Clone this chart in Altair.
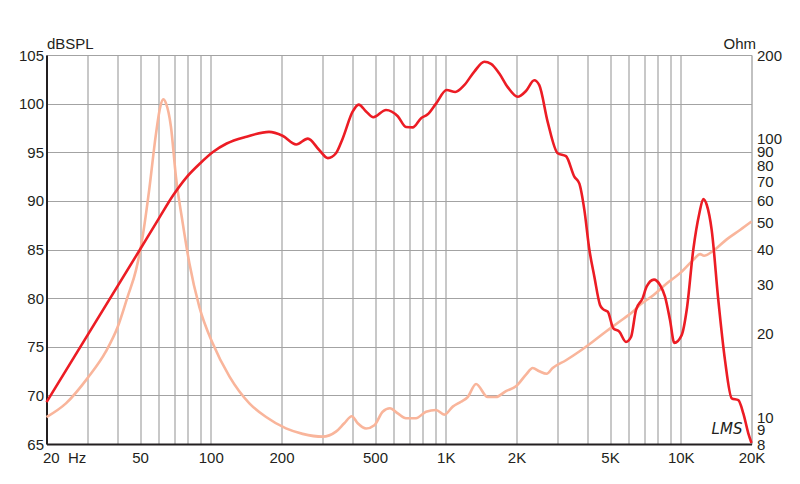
import altair as alt
import pandas as pd

# SPL curve (dB) vs frequency (Hz)
spl_freq = [20, 50, 60.0, 69.3, 79.0, 90.0, 102.5, 116.9, 142, 177,
            202, 231, 259, 290, 315, 341, 364, 402, 426, 458,
            492, 557, 625, 677, 723, 785, 838, 909, 1009, 1098,
            1199, 1323, 1459, 1558, 1690, 1835, 2024, 2195, 2380, 2500,
            2716, 2994, 3248, 3524, 3700, 3887, 4083, 4289, 4533, 4683,
            4890, 5165, 5476, 5848, 6142, 6451, 6887, 7162, 7693, 8158,
            8570, 9000, 9388, 10093, 10602, 11308, 11994, 12474, 12896, 13542,
            14448, 15430, 16476, 17576, 18458, 19384, 20000]
spl_db = [69.3, 85.0, 88.15, 90.6, 92.45, 93.85, 95.05, 95.9, 96.6, 97.1,
          96.7, 95.8, 96.4, 95.2, 94.4, 94.9, 96.4, 99.2, 99.9, 99.2,
          98.6, 99.35, 98.7, 97.6, 97.56, 98.5, 98.9, 100.0, 101.4, 101.2,
          101.9, 103.3, 104.3, 104.1, 103.1, 101.7, 100.7, 101.3, 102.4, 101.9,
          98.1, 94.9, 94.6, 92.5, 91.8, 89.1, 85.0, 82.2, 79.3, 78.85,
          78.6, 76.9, 76.55, 75.5, 76.0, 78.8, 80.0, 81.2, 81.9, 81.35,
          80.15, 77.75, 75.4, 76.2, 78.8, 85.0, 88.7, 90.2, 89.6, 87.0,
          79.8, 73.6, 69.7, 69.5, 68.15, 66.1, 65.1]

# Impedance curve (Ohm) vs frequency (Hz)
imp_freq = [20, 24.2, 29.9, 35.8, 40.2, 44.3, 48.1, 51.3, 54.7, 58.5,
            61.0, 62.8, 64.5, 67.7, 71.1, 76.0, 81.1, 89.4, 101.9, 120,
            146, 172, 209, 246, 299, 341, 370, 398, 422, 458,
            497, 539, 579, 625, 677, 747, 824, 909, 986, 1071,
            1161, 1240, 1345, 1508, 1636, 1804, 1990, 2195, 2344, 2500,
            2688, 2851, 3248, 3700, 4220, 4808, 5476, 6246, 6708, 7642,
            8712, 9926, 11308, 12078, 12560, 13756, 15692, 17870, 20000]
imp_ohm = [10.0, 11.2, 13.8, 17.2, 21.1, 27.1, 33.8, 44.5, 65.5, 104.6,
           130.5, 138.6, 134, 110.5, 73, 49.7, 35.7, 24.9, 18.4, 14.0,
           11.2, 10.0, 9.1, 8.7, 8.5, 8.86, 9.5, 10.07, 9.5, 9.1,
           9.35, 10.45, 10.75, 10.3, 9.9, 9.9, 10.45, 10.6, 10.2, 10.9,
           11.35, 11.8, 13.15, 11.8, 11.8, 12.4, 12.9, 14.2, 15.0, 14.6,
           14.3, 15.0, 16.0, 17.2, 18.65, 20.3, 22.0, 23.9, 25.3, 27.4,
           30.2, 32.9, 36.7, 38.5, 38.0, 39.6, 43.5, 47.0, 50.4]

grid_freqs = [20, 30, 40, 50, 60, 70, 80, 90, 100, 200, 300, 400, 500, 600, 700, 800, 900,
              1000, 2000, 3000, 4000, 5000, 6000, 7000, 8000, 9000, 10000, 20000]
x_label_vals = [20, 50, 100, 200, 500, 1000, 2000, 5000, 10000, 20000]
x_label_txt = ["20\u00a0\u00a0Hz", "50", "100", "200", "500", "1K", "2K", "5K", "10K", "20K"]
db_ticks = [65, 70, 75, 80, 85, 90, 95, 100, 105]
ohm_ticks = [8, 9, 10, 20, 30, 40, 50, 60, 70, 80, 90, 100, 200]

note = pd.DataFrame({"f": [15730], "v": [66.5], "t": ["LMS"]})

FONT = "Liberation Sans"
RED = "#ec1c24"
PINK = "#f9b59b"
DARK = "#231f20"
GRID = "#a3a3a3"

label_expr = " : ".join(
    f"datum.value == {v} ? '{t}'" for v, t in zip(x_label_vals, x_label_txt)
) + " : ''"

x_axis = alt.Axis(
    values=grid_freqs, labelExpr=label_expr, grid=True, gridColor=GRID, gridWidth=1.2,
    ticks=False, domainColor=DARK, domainWidth=2, labelFont=FONT, labelFontSize=15,
    labelColor=DARK, labelPadding=6, labelFlush=False, labelOverlap=False, title=None,
    labelAlign={"condition": {"test": "datum.value == 20", "value": "left"}, "value": "center"},
    labelOffset={"condition": {"test": "datum.value == 20", "value": -4}, "value": 0},
)
x_scale = alt.Scale(type="log", domain=[20, 20000], nice=False)
x_enc = alt.X("f:Q", scale=x_scale, axis=x_axis)

spl_df = pd.DataFrame({"f": spl_freq, "v": spl_db})
imp_df = pd.DataFrame({"f": imp_freq, "v": imp_ohm})

imp_line = alt.Chart(imp_df).mark_line(color=PINK, strokeWidth=2.6, interpolate="monotone").encode(
    x=x_enc,
    y=alt.Y("v:Q", scale=alt.Scale(type="log", domain=[8, 200], nice=False),
            axis=alt.Axis(orient="right", values=ohm_ticks, grid=False, ticks=False,
                          domain=False, labelFont=FONT, labelFontSize=15, labelColor=DARK,
                          labelPadding=5, labelOverlap=False, format="d",
                          title="Ohm", titleAngle=0, titleAlign="right", titleX=4, titleY=-7,
                          titleBaseline="alphabetic", titleFont=FONT, titleFontSize=15,
                          titleFontWeight="normal", titleColor=DARK)),
    order="f:Q",
)

db_scale = alt.Scale(domain=[65, 105], nice=False, zero=False)
spl_line = alt.Chart(spl_df).mark_line(color=RED, strokeWidth=2.6, interpolate="monotone").encode(
    x=x_enc,
    y=alt.Y("v:Q", scale=db_scale,
            axis=alt.Axis(orient="left", values=db_ticks, grid=True, gridColor=GRID, gridWidth=1.2,
                          ticks=False, domainColor=DARK, domainWidth=2, labelFont=FONT,
                          labelFontSize=15, labelColor=DARK, labelPadding=3, labelOverlap=False,
                          title="dBSPL", titleAngle=0, titleAlign="left", titleX=0, titleY=-7,
                          titleBaseline="alphabetic", titleFont=FONT, titleFontSize=15,
                          titleFontWeight="normal", titleColor=DARK)),
    order="f:Q",
)

lms = alt.Chart(note).mark_text(font="DejaVu Sans", fontStyle="italic", fontSize=15,
                                color=DARK).encode(
    x=x_enc,
    y=alt.Y("v:Q", scale=db_scale),
    text="t:N",
)

spl_group = alt.layer(spl_line, lms)

chart = alt.layer(imp_line, spl_group).resolve_scale(y="independent").properties(
    width=705, height=389,
    autosize=alt.AutoSizeParams(type="none"),
    padding={"left": 38.5, "top": 47, "right": 40, "bottom": 30},
).configure_view(stroke=DARK, strokeWidth=2).configure(background="white")

chart.save("out.html", embed_options={"renderer": "svg", "actions": False})
